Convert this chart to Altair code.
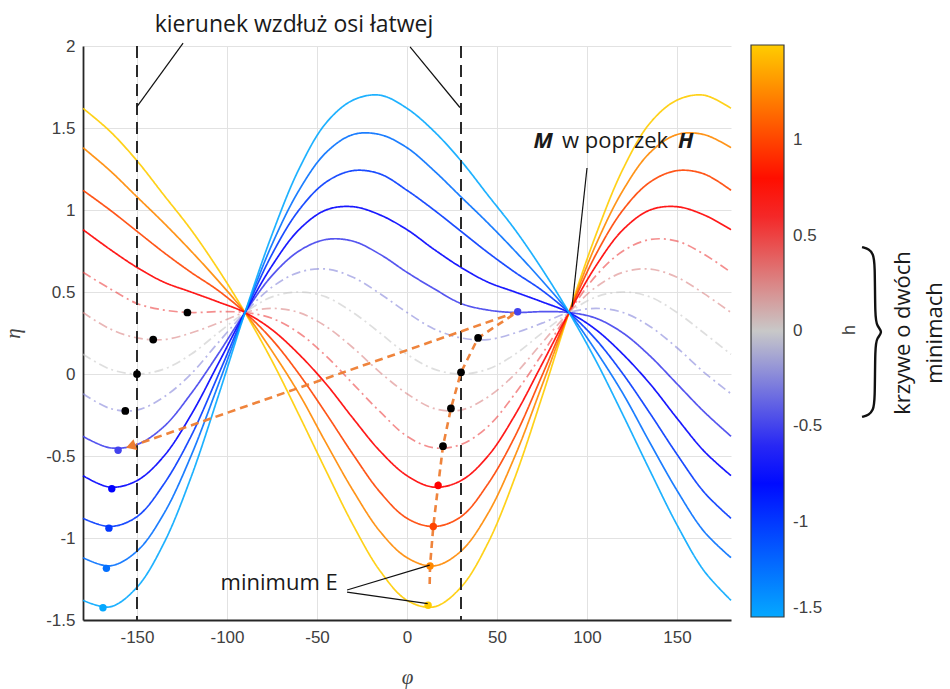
import altair as alt
import pandas as pd

# ---------------- data ----------------
phi = [-180, -165, -150, -135, -120, -105, -90, -75, -60, -45, -30, -15, 0,
       15, 30, 45, 60, 75, 90, 105, 120, 135, 150, 165, 180]

h_levels = [1.5, 1.25, 1.0, 0.75, 0.5, 0.25, 0.0, -0.25, -0.5, -0.75, -1.0, -1.25, -1.5]
dashdot_levels = [0.5, 0.25, 0.0, -0.25]

eta_p150 = [1.62, 1.48, 1.30, 1.09, 0.88, 0.64, 0.375, 0.08, -0.25, -0.59, -0.92, -1.20, -1.38,
            -1.42, -1.30, -1.03, -0.63, -0.14, 0.375, 0.85, 1.25, 1.53, 1.67, 1.70, 1.62]
eta_p125 = [1.38, 1.24, 1.08, 0.92, 0.75, 0.57, 0.375, 0.14, -0.12, -0.42, -0.71, -0.96, -1.12,
            -1.17, -1.08, -0.85, -0.50, -0.07, 0.375, 0.79, 1.12, 1.35, 1.46, 1.46, 1.38]
eta_p100 = [1.12, 1.00, 0.87, 0.74, 0.62, 0.51, 0.375, 0.21, 0.00, -0.24, -0.49, -0.72, -0.88,
            -0.93, -0.87, -0.67, -0.38, -0.01, 0.375, 0.73, 1.00, 1.17, 1.24, 1.22, 1.12]
eta_p075 = [0.88, 0.76, 0.65, 0.56, 0.50, 0.44, 0.375, 0.27, 0.12, -0.06, -0.27, -0.47, -0.62,
            -0.69, -0.65, -0.50, -0.25, 0.06, 0.375, 0.66, 0.88, 1.00, 1.02, 0.97, 0.88]
eta_p050 = [0.62, 0.52, 0.43, 0.39, 0.375, 0.38, 0.375, 0.34, 0.25, 0.11, -0.06, -0.23, -0.38,
            -0.45, -0.43, -0.32, -0.12, 0.12, 0.375, 0.60, 0.75, 0.82, 0.81, 0.73, 0.62]
eta_p025 = [0.375, 0.275, 0.22, 0.21, 0.25, 0.31, 0.375, 0.40, 0.375, 0.29, 0.16, 0.01, -0.12,
            -0.21, -0.22, -0.14, 0.00, 0.19, 0.375, 0.53, 0.62, 0.64, 0.59, 0.49, 0.375]
eta_z000 = [0.12, 0.03, 0.00, 0.03, 0.12, 0.25, 0.375, 0.47, 0.50, 0.47, 0.375, 0.25, 0.12,
            0.03, 0.00, 0.03, 0.12, 0.25, 0.375, 0.47, 0.50, 0.47, 0.375, 0.25, 0.12]
eta_m025 = [-0.12, -0.21, -0.22, -0.14, 0.00, 0.19, 0.375, 0.53, 0.62, 0.64, 0.59, 0.49, 0.375,
            0.275, 0.22, 0.21, 0.25, 0.31, 0.375, 0.40, 0.375, 0.29, 0.16, 0.01, -0.12]
eta_m050 = [-0.38, -0.45, -0.43, -0.32, -0.12, 0.12, 0.375, 0.60, 0.75, 0.82, 0.81, 0.73, 0.62,
            0.52, 0.43, 0.39, 0.375, 0.38, 0.375, 0.34, 0.25, 0.11, -0.06, -0.23, -0.38]
eta_m075 = [-0.62, -0.69, -0.65, -0.50, -0.25, 0.06, 0.375, 0.66, 0.88, 1.00, 1.02, 0.97, 0.88,
            0.76, 0.65, 0.56, 0.50, 0.44, 0.375, 0.27, 0.12, -0.06, -0.27, -0.47, -0.62]
eta_m100 = [-0.88, -0.93, -0.87, -0.67, -0.38, -0.01, 0.375, 0.73, 1.00, 1.17, 1.24, 1.22, 1.12,
            1.00, 0.87, 0.74, 0.62, 0.51, 0.375, 0.21, 0.00, -0.24, -0.49, -0.72, -0.88]
eta_m125 = [-1.12, -1.17, -1.08, -0.85, -0.50, -0.07, 0.375, 0.79, 1.12, 1.35, 1.46, 1.46, 1.38,
            1.24, 1.08, 0.92, 0.75, 0.57, 0.375, 0.14, -0.12, -0.42, -0.71, -0.96, -1.12]
eta_m150 = [-1.38, -1.42, -1.30, -1.03, -0.63, -0.14, 0.375, 0.85, 1.25, 1.53, 1.67, 1.70, 1.62,
            1.48, 1.30, 1.09, 0.88, 0.64, 0.375, 0.08, -0.25, -0.59, -0.92, -1.20, -1.38]

curve_values = [eta_p150, eta_p125, eta_p100, eta_p075, eta_p050, eta_p025, eta_z000,
                eta_m025, eta_m050, eta_m075, eta_m100, eta_m125, eta_m150]

# minima in the two-minimum curves (black dots)
black_phi = [-122, -141, -150, -156.5, 39.5, 30, 24.4, 20]
black_eta = [0.375, 0.21, 0.0, -0.225, 0.22, 0.01, -0.21, -0.44]

# coloured minima
min_phi = [-160.5, -164, -165.6, -167, -168.9, 61.5, 17.3, 14.6, 12.8, 11.7]
min_eta = [-0.465, -0.70, -0.94, -1.185, -1.425, 0.38, -0.68, -0.93, -1.17, -1.41]
min_h = [-0.5, -0.75, -1.0, -1.25, -1.5, -0.5, 0.75, 1.0, 1.25, 1.5]

# path of the right-hand minimum (orange dashed)
path_phi = [12.6, 12.8, 14.6, 17.3, 20, 24.4, 30, 39.5, 61.5]
path_eta = [-1.28, -1.17, -0.93, -0.68, -0.44, -0.21, 0.01, 0.22, 0.38]

# jump (orange dashed arrow)
jump_phi = [61.5, -150.5]
jump_eta = [0.38, -0.43]
arrow_phi = [-153.5]
arrow_eta = [-0.44]

# easy-axis directions
easy_phi = [-150, 30]

# colour map stops
cmap_h = [-1.5, -0.75, 0.0, 0.75, 1.5]
cmap_col = ["#05A8FF", "#0000FF", "#C8C8C8", "#FF0000", "#FFCC00"]

# annotation leader lines (phi, eta, group)
lead_phi = [-124.4, -150, 1.7, 29.4, 100, 91.7, -33.3, 12.6, -33.3, 11.5]
lead_eta = [2.018, 1.63, 1.995, 1.625, 1.256, 0.41, -1.317, -1.165, -1.33, -1.40]
lead_grp = ["a", "a", "b", "b", "c", "c", "d", "d", "e", "e"]

# curly brace next to the colour bar
brace_phi = [252.8, 256.7, 258.9, 260, 260, 261.1, 264.4, 261.1, 260, 260, 258.9, 256.7, 252.8]
brace_eta = [0.774, 0.762, 0.732, 0.683, 0.341, 0.293, 0.256, 0.22, 0.171, -0.171, -0.22, -0.25, -0.262]

# ---------------- tables ----------------
rows = []
for h, ys in zip(h_levels, curve_values):
    st = "dashdot" if h in dashdot_levels else "solid"
    for p, e in zip(phi, ys):
        rows.append({"phi": p, "eta": e, "h": h, "style": st})
df_curves = pd.DataFrame(rows)
df_black = pd.DataFrame({"phi": black_phi, "eta": black_eta})
df_min = pd.DataFrame({"phi": min_phi, "eta": min_eta, "h": min_h})
df_path = pd.DataFrame({"phi": path_phi, "eta": path_eta, "i": list(range(len(path_phi)))})
df_jump = pd.DataFrame({"phi": jump_phi, "eta": jump_eta, "i": [0, 1]})
df_arrow = pd.DataFrame({"phi": arrow_phi, "eta": arrow_eta})
df_easy = pd.DataFrame({"phi": easy_phi})
df_lead = pd.DataFrame({"phi": lead_phi, "eta": lead_eta, "g": lead_grp})
df_brace = pd.DataFrame({"phi": brace_phi, "eta": brace_eta, "i": list(range(len(brace_phi)))})

# ---------------- scales / axes ----------------
x_scale = alt.Scale(domain=[-180, 180], nice=False, zero=False)
y_scale = alt.Scale(domain=[-1.5, 2], nice=False, zero=False)
color_scale = alt.Scale(domain=cmap_h, range=cmap_col, type="linear", interpolate="rgb")

LABEL_FONT = "Liberation Sans"
AX = dict(labelExpr="'' + datum.value", grid=True, ticks=False,
          labelFont=LABEL_FONT, labelFontSize=17, labelColor="#404040",
          gridColor="#e2e2e2", gridWidth=1, domainColor="#262626", domainWidth=1.8,
          titleFont="Liberation Serif", titleFontStyle="italic", titleFontWeight="normal",
          titleFontSize=21, titleColor="#444444")
x_axis = alt.Axis(title="φ", values=[-150, -100, -50, 0, 50, 100, 150],
                  labelPadding=9, titlePadding=21, **AX)
y_axis = alt.Axis(title="η", values=[-1.5, -1, -0.5, 0, 0.5, 1, 1.5, 2],
                  labelPadding=8, titlePadding=22, **AX)


def X():
    return alt.X("phi:Q", scale=x_scale, axis=x_axis)


def Y():
    return alt.Y("eta:Q", scale=y_scale, axis=y_axis)


legend = alt.Legend(type="gradient", orient="none", legendX=668, legendY=-1, direction="vertical",
                    gradientLength=572, gradientThickness=33, title=None,
                    values=[-1.5, -1, -0.5, 0, 0.5, 1], labelExpr="'' + datum.value",
                    labelFontSize=17, labelFont=LABEL_FONT, labelColor="#404040", labelOffset=9,
                    labelBaseline="middle",
                    gradientStrokeColor="#3a3a3a", gradientStrokeWidth=1.2, padding=0)

curves = alt.Chart(df_curves).mark_line(interpolate="catmull-rom", strokeWidth=1.7).encode(
    x=X(), y=Y(),
    color=alt.Color("h:Q", scale=color_scale, legend=None),
    detail="h:N",
    strokeDash=alt.StrokeDash("style:N", scale=alt.Scale(domain=["solid", "dashdot"],
                                                         range=[[1, 0], [9, 4, 2, 4]]), legend=None),
    opacity=alt.Opacity("style:N", scale=alt.Scale(domain=["solid", "dashdot"], range=[0.9, 0.6]),
                        legend=None),
)

easy = alt.Chart(df_easy).mark_rule(color="#2a2a2a", strokeWidth=2, strokeDash=[12, 7]).encode(x=X())

ORANGE = "#EE7D31"
path = alt.Chart(df_path).mark_line(color=ORANGE, strokeWidth=2.6, strokeDash=[7, 5], opacity=0.95).encode(
    x=X(), y=Y(), order="i:Q")
jump = alt.Chart(df_jump).mark_line(color=ORANGE, strokeWidth=2.6, strokeDash=[8, 5], opacity=0.95).encode(
    x=X(), y=Y(), order="i:Q")
arrow = alt.Chart(df_arrow).mark_point(shape="triangle-left", filled=True, size=130, angle=341,
                                       color=ORANGE, opacity=1).encode(x=X(), y=Y())

black = alt.Chart(df_black).mark_circle(size=60, color="#000000", opacity=1).encode(x=X(), y=Y())
mins = alt.Chart(df_min).mark_circle(size=55, opacity=1).encode(
    x=X(), y=Y(), fill=alt.Fill("h:Q", scale=color_scale, legend=legend))

leads = alt.Chart(df_lead).mark_line(color="#111111", strokeWidth=1.2).encode(
    x=X(), y=Y(), detail="g:N")
brace = alt.Chart(df_brace).mark_line(color="#111111", strokeWidth=2.4, interpolate="basis").encode(
    x=X(), y=Y(), order="i:Q")

TXT_FONT = "Open Sans"


def text(df, **kw):
    base = dict(font=TXT_FONT, fontSize=22, color="#1a1a1a")
    base.update(kw)
    return alt.Chart(pd.DataFrame(df)).mark_text(**base).encode(x=X(), y=Y(), text="t:N")


t_kier = text({"phi": [-62.8], "eta": [2.085], "t": ["kierunek wzdłuż osi łatwej"]},
              align="center", baseline="alphabetic", fontSize=23)
t_min = text({"phi": [-38.5], "eta": [-1.317], "t": ["minimum E"]}, align="right", baseline="alphabetic")
t_M = text({"phi": [81.1], "eta": [1.378], "t": ["M"]}, align="right", baseline="alphabetic",
           fontStyle="italic", fontWeight="bold")
t_w = text({"phi": [115.6], "eta": [1.378], "t": ["w poprzek"]}, align="center", baseline="alphabetic")
t_H = text({"phi": [150.5], "eta": [1.378], "t": ["H"]}, align="left", baseline="alphabetic",
           fontStyle="italic", fontWeight="bold")
t_h = text({"phi": [246.1], "eta": [0.268], "t": ["h"]}, align="center", baseline="middle",
           angle=270, font=LABEL_FONT, fontSize=18, color="#404040")
t_k1 = text({"phi": [275.6], "eta": [0.25], "t": ["krzywe o dwóch"]}, align="center", baseline="middle",
            angle=270)
t_k2 = text({"phi": [293.3], "eta": [0.25], "t": ["minimach"]}, align="center", baseline="middle",
            angle=270)

chart = alt.layer(
    curves, easy, path, jump, arrow, black, mins, leads, brace,
    t_kier, t_min, t_M, t_w, t_H, t_h, t_k1, t_k2
).resolve_legend(color="independent", fill="independent").properties(
    width=648, height=574,
    padding={"left": 83, "top": 46, "right": 219, "bottom": 69},
    autosize=alt.AutoSizeParams(type="none"),
    background="white",
).configure_view(stroke=None)

chart.save("out.html", embed_options={"renderer": "svg", "actions": False})
